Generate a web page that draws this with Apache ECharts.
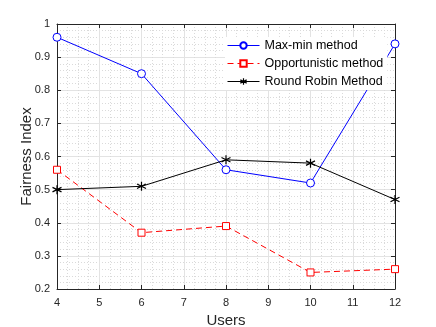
<!DOCTYPE html>
<html>
<head>
<meta charset="utf-8">
<script src="https://cdn.jsdelivr.net/npm/echarts@6/dist/echarts.min.js"></script>
<style>
  html, body { margin: 0; padding: 0; background: #fff; }
  #main { width: 436px; height: 327px; }
</style>
</head>
<body>
<div id="main"></div>
<script>
const users = [4, 6, 8, 10, 12]
const maxMin = [0.96, 0.85, 0.56, 0.52, 0.94]
const opportunistic = [0.56, 0.37, 0.39, 0.25, 0.26]
const roundRobin = [0.50, 0.51, 0.59, 0.58, 0.47]

const pairs = (ys) => users.map((x, i) => [x, ys[i]])
const font = 'Liberation Sans, Arial, sans-serif'
const star = 'path://M0,-5L0,5M-4.33,-2.5L4.33,2.5M-4.33,2.5L4.33,-2.5'

const chart = echarts.init(document.getElementById('main'))

const baseX = {
  type: 'value', min: 4, max: 12, interval: 1,
  axisLine: { onZero: false, lineStyle: { color: '#262626', width: 1 } },
  axisTick: { inside: true, length: 4, lineStyle: { color: '#262626' } },
}
const baseY = {
  type: 'value', min: 0.2, max: 1, interval: 0.1,
  axisLine: { show: true, onZero: false, lineStyle: { color: '#262626', width: 1 } },
  axisTick: { show: true, inside: true, length: 4, lineStyle: { color: '#262626' } },
}

const option = {
  animation: false,
  backgroundColor: '#fff',
  grid: { left: 57, right: 41, top: 24, bottom: 38, outerBoundsMode: 'none', containLabel: false },
  legend: {
    top: 37, left: 225, orient: 'vertical', itemGap: 5,
    itemWidth: 32, itemHeight: 8,
    backgroundColor: '#fff', padding: [2, 4, 2, 2],
    lineStyle: { width: 1 },
    textStyle: { fontFamily: font, fontSize: 12.5, color: '#000' },
    data: [
      'Max-min method',
      'Opportunistic method',
      { name: 'Round Robin Method', itemStyle: { color: 'none', borderColor: '#000', borderWidth: 1.2 } },
    ],
  },
  xAxis: [
    Object.assign({}, baseX, {
      name: 'Users', nameLocation: 'middle', nameGap: 24, nameMoveOverlap: false,
      nameTextStyle: { fontFamily: font, fontSize: 15, color: '#262626' },
      axisLabel: { fontFamily: font, fontSize: 11, color: '#262626', margin: 8 },
      splitLine: { show: true, lineStyle: { color: '#e3e3e3', width: 1 } },
      minorTick: { show: true, splitNumber: 4, length: 0 },
      minorSplitLine: { show: true, lineStyle: { color: '#dadada', type: [1, 2], width: 1 } },
    }),
    Object.assign({}, baseX, {
      position: 'top', axisLabel: { show: false }, splitLine: { show: false },
    }),
  ],
  yAxis: [
    Object.assign({}, baseY, {
      name: 'Fairness Index', nameLocation: 'middle', nameGap: 23, nameMoveOverlap: false,
      nameTextStyle: { fontFamily: font, fontSize: 15, color: '#262626' },
      axisLabel: { fontFamily: font, fontSize: 11, color: '#262626', margin: 7,
        formatter: (v) => String(Math.round(v * 10) / 10) },
      splitLine: { show: true, lineStyle: { color: '#e3e3e3', width: 1 } },
      minorTick: { show: true, splitNumber: 5, length: 0 },
      minorSplitLine: { show: true, lineStyle: { color: '#dadada', type: [1, 2], width: 1 } },
    }),
    Object.assign({}, baseY, {
      position: 'right', axisLabel: { show: false }, splitLine: { show: false },
    }),
  ],
  series: [
    {
      name: 'Max-min method', type: 'line', data: pairs(maxMin),
      symbol: 'circle', symbolSize: 8,
      lineStyle: { color: '#0000ff', width: 1 },
      itemStyle: { color: '#fff', borderColor: '#0000ff', borderWidth: 1 },
    },
    {
      name: 'Opportunistic method', type: 'line', data: pairs(opportunistic),
      symbol: 'rect', symbolSize: 7,
      lineStyle: { color: '#ff0000', width: 1, type: [6, 4] },
      itemStyle: { color: '#fff', borderColor: '#ff0000', borderWidth: 1 },
    },
    {
      name: 'Round Robin Method', type: 'line', data: pairs(roundRobin),
      symbol: star, symbolSize: 9,
      lineStyle: { color: '#000', width: 1 },
      itemStyle: { color: 'none', borderColor: '#000', borderWidth: 1.2 },
    },
  ],
}

option && chart.setOption(option)
</script>
</body>
</html>
